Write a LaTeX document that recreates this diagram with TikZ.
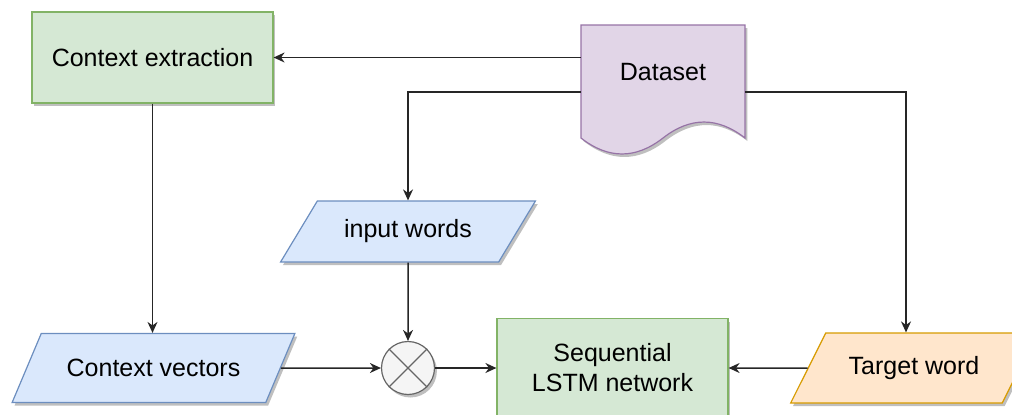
\documentclass[tikz,border=0pt]{standalone}
\usepackage{fontspec}
\setmainfont{Liberation Sans}
\usepackage{tikz}
\usetikzlibrary{arrows.meta,shapes.geometric,shadows}

\definecolor{procfill}{HTML}{D5E8D4}
\definecolor{procline}{HTML}{82B366}
\definecolor{iofill}{HTML}{DAE8FC}
\definecolor{ioline}{HTML}{6C8EBF}
\definecolor{docfill}{HTML}{E1D5E7}
\definecolor{docline}{HTML}{9673A6}
\definecolor{tgtfill}{HTML}{FFE6CC}
\definecolor{tgtline}{HTML}{D79B00}
\definecolor{opfill}{HTML}{F5F5F5}
\definecolor{opline}{HTML}{666666}

\begin{document}
\begin{tikzpicture}[
  x=0.5pt, y=-0.5pt,
  >={Stealth[length=5.5pt,width=5pt]},
  font=\fontsize{12.5}{15}\selectfont,
  shade/.style={drop shadow={shadow xshift=1.2pt, shadow yshift=-1.5pt, opacity=0.25, fill=black}},
  process/.style={draw=procline, fill=procfill, line width=0.6pt, shade, align=center},
  io/.style={trapezium, trapezium left angle=52, trapezium right angle=128, trapezium stretches=true,
    draw=ioline, fill=iofill, line width=0.6pt, shade, minimum height=34.5pt},
  op/.style={circle, draw=opline, fill=opfill, line width=0.6pt, shade, minimum size=26.5pt, inner sep=0pt},
  arrow/.style={->, line width=0.75pt, draw=black!85}
]
\useasboundingbox (0,0) rectangle (1012,414);

% dataset (document shape)
\draw[draw=docline, fill=docfill, line width=0.6pt, shade]
  (581,25) -- (745,25) -- (745,138)
  .. controls (717.7,116.7) and (690.3,116.7) .. (663,138)
  .. controls (635.7,159.3) and (608.3,159.3) .. (581,138) -- cycle;
\node[minimum width=82pt, minimum height=56.5pt] (data) at (663,81.5) {\raisebox{9.5pt}{Dataset}};

\node[process, minimum width=120.5pt, minimum height=45.5pt] (ctx) at (152.5,57.5) {Context extraction};
\node[io, minimum width=128.5pt, minimum height=30.5pt] (inw) at (408,231.5) {input words};
\node[io, minimum width=141.5pt] (cv) at (153.5,368) {Context vectors};
\node[op] (mul) at (408,368) {};
\draw[opline, line width=0.6pt] (mul.north west) -- (mul.south east) (mul.north east) -- (mul.south west);
\node[process, minimum width=115.5pt, minimum height=49.5pt] (lstm) at (612.5,368) {Sequential\\LSTM network};
\node[io, draw=tgtline, fill=tgtfill, minimum width=124pt, minimum height=35pt] (tgt) at (914,368) {Target word};

\draw[arrow] (data.west |- ctx) -- (ctx);
\draw[arrow] ([yshift=-5.25pt]data.west) -| (inw);
\draw[arrow] ([yshift=-5.25pt]data.east) -| ([xshift=-4pt]tgt.north);
\draw[arrow] (ctx.south) -- (ctx.south |- cv.north);
\draw[arrow] (cv) -- (mul);
\draw[arrow] (inw) -- (mul);
\draw[arrow] (mul) -- (lstm);
\draw[arrow] (tgt) -- (lstm);
\end{tikzpicture}
\end{document}
